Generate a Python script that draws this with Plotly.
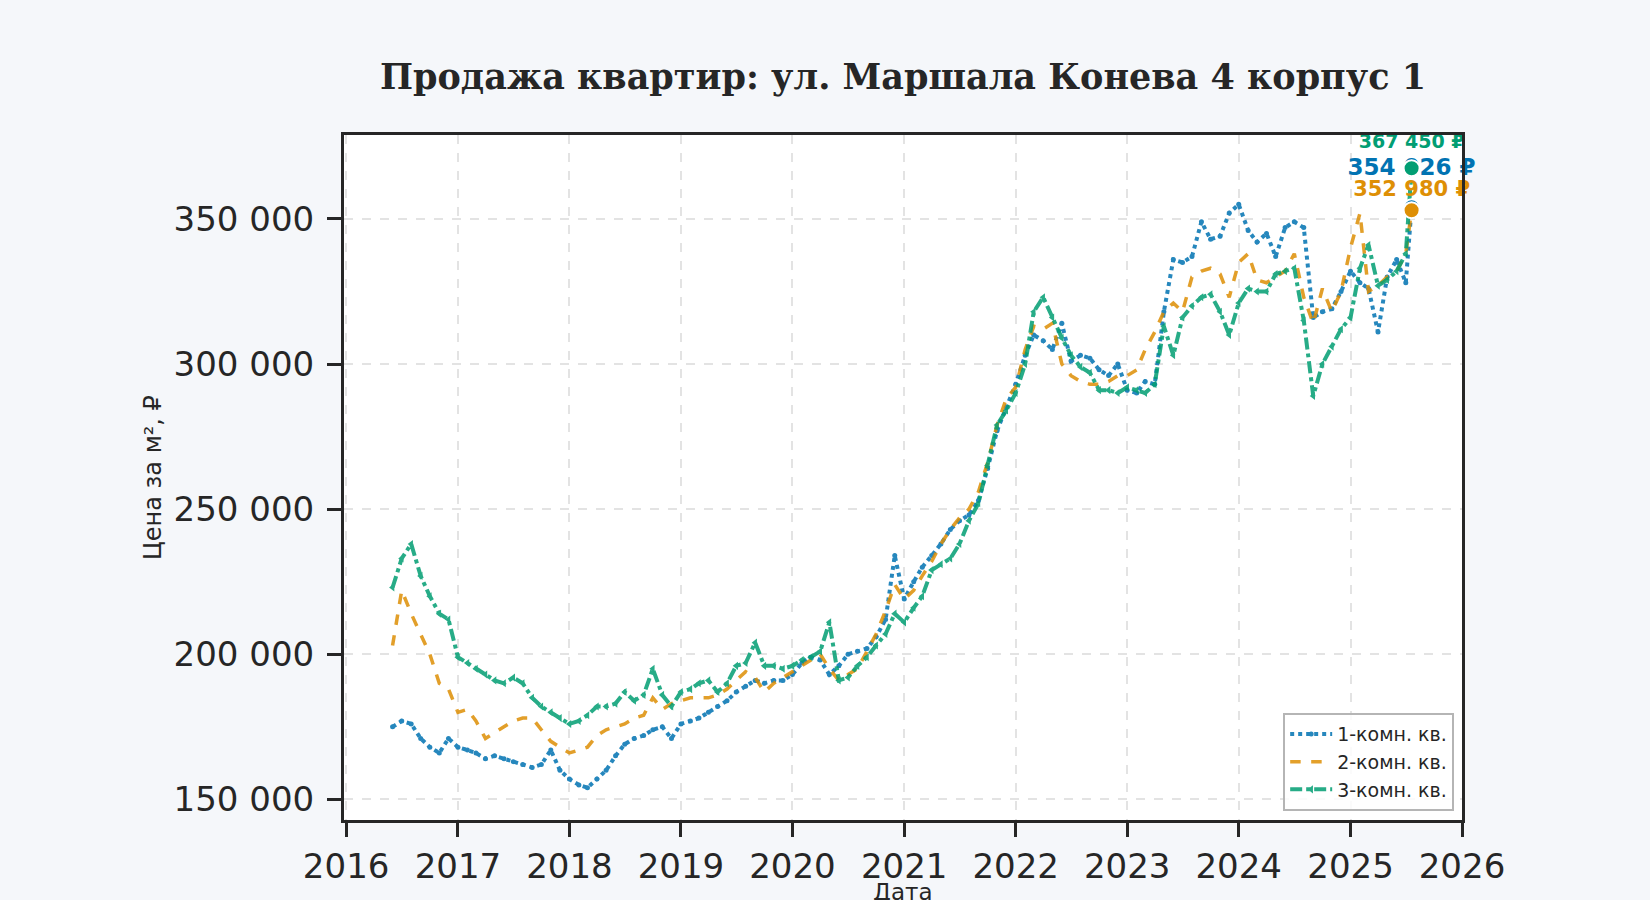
import pandas as pd
import plotly.graph_objects as go

# monthly readings (thousand ₽ per m²), Jun 2016 .. Jul 2025, plus the last day
DATES = list(pd.date_range("2016-06-01", "2025-07-01", freq="MS").strftime("%Y-%m-%d")) + ["2025-07-20"]

ROOM_1 = [
    175, 177, 176, 171, 168, 166, 171,
    168, 167, 166, 164, 165, 164, 163, 162, 161, 162, 167, 160,
    157, 155, 154, 157, 160, 165, 169, 171, 172, 174, 175, 171,
    176, 177, 178, 180, 182, 184, 187, 189, 191, 190, 191, 191,
    193, 197, 199, 198, 193, 196, 200, 201, 202, 206, 212, 234,
    219, 225, 230, 234, 238, 243, 246, 248, 253, 264, 277, 285,
    293, 303, 310, 308, 305, 314, 301, 303, 302, 298, 296, 300,
    291, 290, 294, 293, 318, 336, 335, 337, 349, 343, 344, 352,
    355, 346, 342, 345, 337, 347, 349, 347, 316, 318, 319, 325,
    332, 328, 326, 311, 330, 336, 328,
    354.026,
]
ROOM_2 = [
    203, 222, 214, 207, 200, 190, 188,
    180, 181, 177, 171, 173, 175, 177, 178, 178, 174, 170, 168,
    166, 167, 168, 172, 174, 175, 176, 178, 179, 185, 181, 183,
    184, 185, 185, 185, 186, 188, 191, 194, 192, 187, 190, 192,
    194, 196, 198, 200, 195, 191, 193, 195, 201, 207, 215, 224,
    219, 222, 227, 232, 238, 243, 247, 250, 256, 266, 279, 288,
    292, 305, 313, 312, 314, 300, 296, 294, 293, 293, 294, 296,
    296, 298, 305, 311, 318, 321, 318, 330, 332, 333, 331, 323,
    335, 338, 329, 328, 330, 332, 338, 323, 314, 326, 318, 325,
    340, 352, 325, 327, 330, 332, 338,
    352.98,
]
ROOM_3 = [
    223, 233, 238, 227, 220, 214, 212,
    199, 197, 195, 193, 191, 190, 192, 190, 185, 182, 180, 178,
    176, 177, 179, 182, 182, 183, 187, 184, 186, 195, 186, 182,
    187, 188, 190, 191, 187, 190, 196, 197, 204, 196, 196, 195,
    196, 198, 199, 201, 211, 191, 192, 196, 199, 203, 207, 214,
    211, 216, 220, 229, 231, 233, 238, 246, 252, 265, 279, 284,
    290, 300, 318, 323, 316, 309, 303, 299, 297, 291, 291, 290,
    292, 291, 290, 293, 313, 303, 316, 320, 323, 324, 318, 310,
    321, 326, 325, 325, 331, 332, 333, 315, 289, 300, 306, 312,
    316, 333, 341, 327, 329, 332, 338,
    367.45,
]

SERIES_NAMES = ["1-комн. кв.", "2-комн. кв.", "3-комн. кв."]
COLORS = ["#0173b2", "#de8f05", "#029e73"]

Y_TICKS = [150000, 200000, 250000, 300000, 350000]
Y_TICK_TEXT = ["150 000", "200 000", "250 000", "300 000", "350 000"]
X_TICKS = [f"{y}-01-01" for y in range(2016, 2027)]
X_TICK_TEXT = [str(y) for y in range(2016, 2027)]

Y_RANGE = [142900, 378900]
X_RANGE = ["2015-12-25", "2026-01-01"]

MARGIN = dict(l=344, r=188, t=135, b=80)
PLOT_H = 900 - MARGIN["t"] - MARGIN["b"]
INK = "#262626"


def fmt_rub(v):
    return f"{v:,.0f}".replace(",", " ") + " ₽"


def main():
    fig = go.Figure()
    values = [[v * 1000 for v in s] for s in (ROOM_1, ROOM_2, ROOM_3)]

    styles = [
        dict(dash="dot", width=4, symbol="circle", msize=5),
        dict(dash="dash", width=3.5, symbol=None, msize=0),
        dict(dash="dashdot", width=4, symbol="triangle-left", msize=7),
    ]
    for name, col, ys, st in zip(SERIES_NAMES, COLORS, values, styles):
        fig.add_trace(go.Scatter(
            x=DATES, y=ys, name=name,
            mode="lines+markers" if st["symbol"] else "lines",
            line=dict(color=col, width=st["width"], dash=st["dash"]),
            marker=dict(symbol=st["symbol"] or "circle", size=st["msize"], color=col),
            opacity=0.85,
        ))

    # end labels (text under the dots, as in the original)
    units_per_px = (Y_RANGE[1] - Y_RANGE[0]) / PLOT_H
    label_shift = [38, 19, 25]   # px above the last point
    label_size = [23, 21, 19]
    for col, ys, sh, fs in zip(COLORS, values, label_shift, label_size):
        fig.add_trace(go.Scatter(
            x=[DATES[-1]], y=[ys[-1] + sh * units_per_px],
            mode="text", text=[fmt_rub(ys[-1])], textposition="middle center",
            textfont=dict(family="DejaVu Sans", size=fs, color=col, weight="bold"),
            showlegend=False, hoverinfo="skip", cliponaxis=False,
        ))

    # end dots: green, blue, orange (orange on top)
    for i in (2, 0, 1):
        fig.add_trace(go.Scatter(
            x=[DATES[-1]], y=[values[i][-1]], mode="markers",
            marker=dict(size=16, color=COLORS[i], line=dict(color="white", width=2)),
            showlegend=False, hoverinfo="skip", cliponaxis=False,
        ))

    axis_common = dict(
        showline=True, linecolor=INK, linewidth=3, mirror=True,
        ticks="outside", ticklen=14, tickwidth=3, tickcolor=INK,
        showgrid=True, gridcolor="#e3e3e3", gridwidth=2, griddash="dash",
        zeroline=False, automargin=False,
        tickfont=dict(family="DejaVu Sans", size=34, color=INK),
    )
    fig.update_xaxes(**axis_common, range=X_RANGE, tickvals=X_TICKS, ticktext=X_TICK_TEXT)
    fig.update_yaxes(
        **axis_common, range=Y_RANGE, tickvals=Y_TICKS, ticktext=Y_TICK_TEXT,
        ticklabelstandoff=6,
        title=dict(text="Цена за м², ₽", font=dict(family="DejaVu Sans", size=24, color=INK), standoff=6),
    )

    # x-axis title sits low, near the page bottom, like in the original
    fig.add_annotation(
        text="Дата", xref="paper", yref="paper", x=0.5, y=-0.083,
        yanchor="top", showarrow=False,
        font=dict(family="DejaVu Sans", size=23, color=INK),
    )

    fig.update_layout(
        width=1650, height=900,
        paper_bgcolor="#f5f7fa", plot_bgcolor="white",
        margin=MARGIN,
        title=dict(
            text="<b>Продажа квартир: ул. Маршала Конева 4 корпус 1</b>",
            x=0.5, xref="paper", xanchor="center",
            y=1 - 77 / 900, yanchor="middle",
            font=dict(family="DejaVu Serif", size=35, color=INK),
        ),
        legend=dict(
            x=0.993, y=0.013, xanchor="right", yanchor="bottom",
            bgcolor="rgba(255,255,255,0.85)", bordercolor="#b5b5b5", borderwidth=2,
            itemwidth=42,
            font=dict(family="DejaVu Sans", size=19, color=INK),
        ),
    )

    # page has no body margin in the original screenshot
    fig.write_html(
        "out.html",
        config={"displayModeBar": False},
        post_script="document.body.style.margin='0';",
    )


if __name__ == "__main__":
    main()
